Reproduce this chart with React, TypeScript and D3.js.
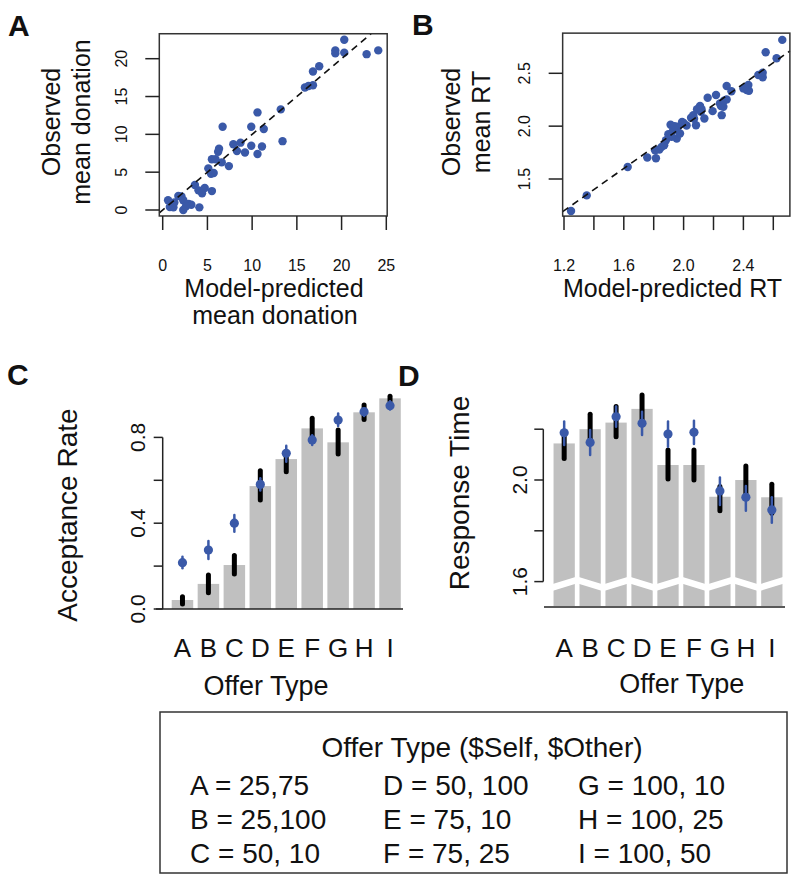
import React from 'react';
import * as d3 from 'd3';

// ---------- DATA ----------
const donationPoints: [number, number][] = [
  [20.3, 22.5], [19.3, 21.1], [19.3, 20.7], [20.3, 20.8], [22.8, 20.6], [24.1, 21.1],
  [17.5, 19.0], [16.8, 18.3], [15.9, 16.2], [16.3, 16.4], [16.8, 16.5], [13.2, 13.3],
  [13.4, 9.1], [10.6, 12.9], [9.9, 11.0], [11.3, 10.7], [6.7, 11.0], [7.9, 8.7],
  [8.7, 8.9], [8.3, 7.8], [9.2, 7.6], [9.9, 8.5], [11.1, 8.4], [10.6, 7.4],
  [6.3, 8.1], [6.2, 7.7], [5.5, 6.7], [5.9, 6.7], [6.6, 6.3], [7.4, 5.8],
  [5.1, 5.5], [5.4, 4.8], [5.7, 4.9], [3.6, 3.3], [4.0, 2.6], [4.7, 2.9],
  [4.4, 2.2], [5.5, 2.5], [1.75, 1.85], [2.1, 1.8], [0.6, 1.3], [0.8, 0.4],
  [1.2, 0.35], [2.3, 1.3], [2.3, 0.0], [2.9, 0.8], [3.2, 0.7], [4.1, 0.35],
  [2.6, 0.5], [1.3, 1.0],
];

const rtPoints: [number, number][] = [
  [1.247, 1.197], [1.352, 1.345], [1.626, 1.614], [1.757, 1.703], [1.815, 1.696],
  [1.809, 1.772], [1.838, 1.779], [1.853, 1.804], [1.882, 1.867], [1.898, 1.924],
  [1.913, 2.013], [1.954, 1.883], [1.962, 1.994], [1.976, 1.93], [1.99, 2.04],
  [2.02, 2.006], [2.065, 2.104], [2.083, 2.009], [2.11, 2.19], [2.116, 2.136],
  [2.139, 2.073], [2.161, 2.269], [2.194, 2.142], [2.217, 2.294], [2.243, 2.215],
  [2.255, 2.104], [2.266, 2.183], [2.288, 2.38], [2.288, 2.253], [2.32, 2.33],
  [2.40, 2.357], [2.422, 2.342], [2.433, 2.389], [2.437, 2.335], [2.50, 2.484],
  [2.529, 2.462], [2.529, 2.506], [2.549, 2.699], [2.622, 2.642], [2.66, 2.816],
  [1.93, 1.96], [1.94, 2.0], [1.87, 1.82], [1.92, 1.9], [2.07, 2.07], [2.09, 2.16],
  [2.12, 2.16], [2.25, 2.19], [2.27, 2.24], [2.41, 2.36], [2.0, 2.03], [2.05, 2.08],
];

const offerTypes = ['A', 'B', 'C', 'D', 'E', 'F', 'G', 'H', 'I'];

const accObs = [0.042, 0.117, 0.205, 0.573, 0.699, 0.842, 0.777, 0.917, 0.982];
const accObsLo = [0.023, 0.076, 0.163, 0.508, 0.64, 0.803, 0.723, 0.884, 0.97];
const accObsHi = [0.057, 0.159, 0.249, 0.645, 0.729, 0.889, 0.834, 0.951, 0.992];
const accPred = [0.216, 0.275, 0.4, 0.581, 0.726, 0.788, 0.881, 0.92, 0.948];
const accPredLo = [0.19, 0.233, 0.36, 0.552, 0.687, 0.765, 0.853, 0.9, 0.93];
const accPredHi = [0.244, 0.317, 0.438, 0.609, 0.761, 0.81, 0.912, 0.936, 0.968];

const rtObs = [2.144, 2.2, 2.226, 2.28, 2.059, 2.059, 1.934, 2.0, 1.932];
const rtObsLo = [2.085, 2.144, 2.17, 2.223, 2.004, 2.0, 1.879, 1.941, 1.869];
const rtObsHi = [2.19, 2.259, 2.289, 2.335, 2.118, 2.118, 1.974, 2.055, 1.983];
const rtPred = [2.186, 2.148, 2.249, 2.223, 2.181, 2.188, 1.957, 1.932, 1.882];
const rtPredLo = [2.138, 2.098, 2.21, 2.177, 2.131, 2.142, 1.902, 1.879, 1.832];
const rtPredHi = [2.23, 2.197, 2.289, 2.269, 2.23, 2.233, 2.01, 1.976, 1.932];

const ticksA = [0, 5, 10, 15, 20, 25];
const ticksAy = [0, 5, 10, 15, 20];
const ticksBx = [1.2, 1.4, 1.6, 1.8, 2.0, 2.2, 2.4, 2.6];
const labelsBx = ['1.2', '', '1.6', '', '2.0', '', '2.4', ''];
const ticksBy = [1.5, 2.0, 2.5];
const labelsBy = ['1.5', '2.0', '2.5'];
const ticksC = [0, 0.2, 0.4, 0.6, 0.8];
const labelsC = ['0.0', '', '0.4', '', '0.8'];
const ticksD = [1.6, 1.8, 2.0, 2.2];
const labelsD = ['1.6', '', '2.0', ''];

const legendTitle = 'Offer Type ($Self, $Other)';
const legendCol1 = ['A = 25,75', 'B = 25,100', 'C = 50, 10'];
const legendCol2 = ['D = 50, 100', 'E = 75, 10', 'F = 75, 25'];
const legendCol3 = ['G = 100, 10', 'H = 100, 25', 'I = 100, 50'];

// ---------- STYLE ----------
const FONT = '"Liberation Sans", Arial, Helvetica, sans-serif';
const BLUE = '#3a59a8';
const GRAY = '#c0c0c0';
const AXIS = '#222';

function VText(props: { x: number; y: number; size: number; children: any }) {
  return (
    <text
      transform={`translate(${props.x},${props.y}) rotate(-90)`}
      textAnchor="middle"
      fontSize={props.size}
      fill="#111"
    >
      {props.children}
    </text>
  );
}

function Scatter(props: {
  points: [number, number][];
  x: d3.ScaleLinear<number, number>;
  y: d3.ScaleLinear<number, number>;
  xDom: [number, number];
  yDom: [number, number];
}) {
  const { points, x, y, xDom, yDom } = props;
  const lo = Math.max(xDom[0], yDom[0]);
  const hi = Math.min(xDom[1], yDom[1]);
  return (
    <g>
      {points.map((p, i) => (
        <circle key={i} cx={x(p[0])} cy={y(p[1])} r={4.2} fill={BLUE} />
      ))}
      <line
        x1={x(lo)} y1={y(lo)} x2={x(hi)} y2={y(hi)}
        stroke="#111" strokeWidth={1.6} strokeDasharray="7,5"
      />
      <rect
        x={x(xDom[0])} y={y(yDom[1])}
        width={x(xDom[1]) - x(xDom[0])} height={y(yDom[0]) - y(yDom[1])}
        fill="none" stroke="#333" strokeWidth={1.5}
      />
    </g>
  );
}

export default function App() {
  // Panel A
  const xA = d3.scaleLinear().domain([0, 25]).range([162.7, 386.3]);
  const yA = d3.scaleLinear().domain([0, 20]).range([210, 58.7]);
  const aXDom: [number, number] = [-0.38, 25.1];
  const aYDom: [number, number] = [-0.79, 23.3];
  // Panel B
  const xB = d3.scaleLinear().domain([1.2, 2.6]).range([564, 773.3]);
  const yB = d3.scaleLinear().domain([1.5, 2.5]).range([179, 73.3]);
  const bXDom: [number, number] = [1.191, 2.711];
  const bYDom: [number, number] = [1.149, 2.88];
  // Panel C
  const xC = d3.scaleBand<string>().domain(offerTypes).range([169.5, 403]).paddingInner(0.171).paddingOuter(0.0855);
  const yC = d3.scaleLinear().domain([0, 0.8]).range([609, 437.4]);
  // Panel D
  const xD = d3.scaleBand<string>().domain(offerTypes).range([551.2, 784.8]).paddingInner(0.18).paddingOuter(0.09);
  const yD = d3.scaleLinear().domain([1.6, 2.2]).range([581.6, 429.2]);

  const aBottom = yA(aYDom[0]);
  const bBottom = yB(bYDom[0]);
  const aLeft = xA(aXDom[0]);
  const bLeft = xB(bXDom[0]);

  // zigzag break for panel D
  const stepD = xD.step();
  const zig: [number, number][] = d3.range(0, 10).map((k) => [
    xD.range()[0] + k * stepD,
    k % 2 === 0 ? yD(1.575) : yD(1.607),
  ]);
  const zigLine = d3.line()(zig) as string;

  return (
    <svg
      width={800}
      height={884}
      style={{ position: 'absolute', left: 0, top: 0, background: '#fff' }}
      fontFamily={FONT}
    >
      <rect x={0} y={0} width={800} height={884} fill="#fff" />

      {/* Panel letters */}
      <text x={8} y={36} fontSize={30} fontWeight="bold" fill="#111">A</text>
      <text x={412} y={35} fontSize={30} fontWeight="bold" fill="#111">B</text>
      <text x={7} y={385} fontSize={30} fontWeight="bold" fill="#111">C</text>
      <text x={398} y={386} fontSize={30} fontWeight="bold" fill="#111">D</text>

      {/* ===== Panel A ===== */}
      <Scatter points={donationPoints} x={xA} y={yA} xDom={aXDom} yDom={aYDom} />
      {ticksAy.map((t) => (
        <g key={'ay' + t}>
          <line x1={aLeft - 14} x2={aLeft} y1={yA(t)} y2={yA(t)} stroke={AXIS} strokeWidth={1.5} />
          <VText x={126.7} y={yA(t)} size={16}>{String(t)}</VText>
        </g>
      ))}
      {ticksA.map((t) => (
        <g key={'ax' + t}>
          <line x1={xA(t)} x2={xA(t)} y1={aBottom} y2={aBottom + 14} stroke={AXIS} strokeWidth={1.5} />
          <text x={xA(t)} y={271} fontSize={16} textAnchor="middle" fill="#111">{t}</text>
        </g>
      ))}
      <VText x={60} y={122} size={25}>Observed</VText>
      <VText x={90} y={122} size={25}>mean donation</VText>
      <text x={274} y={297} fontSize={25} textAnchor="middle" fill="#111">Model-predicted</text>
      <text x={275} y={324} fontSize={25} textAnchor="middle" fill="#111">mean donation</text>

      {/* ===== Panel B ===== */}
      <Scatter points={rtPoints} x={xB} y={yB} xDom={bXDom} yDom={bYDom} />
      {ticksBy.map((t, i) => (
        <g key={'by' + t}>
          <line x1={bLeft - 14} x2={bLeft} y1={yB(t)} y2={yB(t)} stroke={AXIS} strokeWidth={1.5} />
          <VText x={530} y={yB(t)} size={16}>{labelsBy[i]}</VText>
        </g>
      ))}
      {ticksBx.map((t, i) => (
        <g key={'bx' + t}>
          <line x1={xB(t)} x2={xB(t)} y1={bBottom} y2={bBottom + 14} stroke={AXIS} strokeWidth={1.5} />
          {labelsBx[i] && (
            <text x={xB(t)} y={271} fontSize={16} textAnchor="middle" fill="#111">{labelsBx[i]}</text>
          )}
        </g>
      ))}
      <VText x={460} y={122} size={25}>Observed</VText>
      <VText x={489.5} y={122} size={25}>mean RT</VText>
      <text x={672.5} y={297} fontSize={25} textAnchor="middle" fill="#111">Model-predicted RT</text>

      {/* ===== Panel C ===== */}
      {offerTypes.map((o, i) => (
        <rect key={'cb' + o} x={xC(o)} y={yC(accObs[i])} width={xC.bandwidth()} height={yC(0) - yC(accObs[i])} fill={GRAY} />
      ))}
      {offerTypes.map((o, i) => {
        const cx = (xC(o) as number) + xC.bandwidth() / 2;
        return (
          <g key={'ce' + o}>
            <line x1={cx} x2={cx} y1={yC(accObsLo[i])} y2={yC(accObsHi[i])} stroke="#000" strokeWidth={5} strokeLinecap="round" />
            <line x1={cx} x2={cx} y1={yC(accPredLo[i])} y2={yC(accPredHi[i])} stroke={BLUE} strokeWidth={2.5} strokeLinecap="round" />
            <circle cx={cx} cy={yC(accPred[i])} r={4.6} fill={BLUE} />
            <text x={cx} y={656.7} fontSize={26} textAnchor="middle" fill="#111">{o}</text>
          </g>
        );
      })}
      <line x1={156} x2={403} y1={yC(0)} y2={yC(0)} stroke={AXIS} strokeWidth={1.6} />
      <line x1={162.7} x2={162.7} y1={yC(0)} y2={yC(0.8)} stroke={AXIS} strokeWidth={1.5} />
      {ticksC.map((t, i) => (
        <g key={'cy' + t}>
          <line x1={162.7 - 9} x2={162.7} y1={yC(t)} y2={yC(t)} stroke={AXIS} strokeWidth={1.5} />
          {labelsC[i] && <VText x={145} y={yC(t)} size={21}>{labelsC[i]}</VText>}
        </g>
      ))}
      <VText x={77} y={515} size={28}>Acceptance Rate</VText>
      <text x={266} y={695} fontSize={27} textAnchor="middle" fill="#111">Offer Type</text>

      {/* ===== Panel D ===== */}
      {offerTypes.map((o, i) => (
        <rect key={'db' + o} x={xD(o)} y={yD(rtObs[i])} width={xD.bandwidth()} height={yD(1.5) - 1 - yD(rtObs[i])} fill={GRAY} />
      ))}
      <path d={zigLine} fill="none" stroke="#fff" strokeWidth={6.5} />
      {offerTypes.map((o, i) => {
        const cx = (xD(o) as number) + xD.bandwidth() / 2;
        return (
          <g key={'de' + o}>
            <line x1={cx} x2={cx} y1={yD(rtObsLo[i])} y2={yD(rtObsHi[i])} stroke="#000" strokeWidth={5} strokeLinecap="round" />
            <line x1={cx} x2={cx} y1={yD(rtPredLo[i])} y2={yD(rtPredHi[i])} stroke={BLUE} strokeWidth={2.5} strokeLinecap="round" />
            <circle cx={cx} cy={yD(rtPred[i])} r={4.6} fill={BLUE} />
            <text x={cx} y={656.7} fontSize={26} textAnchor="middle" fill="#111">{o}</text>
          </g>
        );
      })}
      <line x1={544} x2={785} y1={yD(1.5)} y2={yD(1.5)} stroke={AXIS} strokeWidth={1.6} />
      <line x1={543.3} x2={543.3} y1={yD(1.6)} y2={yD(2.2)} stroke={AXIS} strokeWidth={1.5} />
      {ticksD.map((t, i) => (
        <g key={'dy' + t}>
          <line x1={543.3 - 9} x2={543.3} y1={yD(t)} y2={yD(t)} stroke={AXIS} strokeWidth={1.5} />
          {labelsD[i] && <VText x={526.7} y={yD(t)} size={21}>{labelsD[i]}</VText>}
        </g>
      ))}
      <VText x={469} y={493} size={28}>Response Time</VText>
      <text x={681.7} y={693} fontSize={27} textAnchor="middle" fill="#111">Offer Type</text>

      {/* ===== Legend ===== */}
      <rect x={160} y={712} width={627} height={161} fill="none" stroke="#333" strokeWidth={1.5} />
      <text x={482} y={757} fontSize={28} textAnchor="middle" fill="#111">{legendTitle}</text>
      {[legendCol1, legendCol2, legendCol3].map((col, ci) =>
        col.map((s, ri) => (
          <text key={'lg' + ci + ri} x={[190, 383, 578][ci]} y={795 + ri * 34} fontSize={28} fill="#111">{s}</text>
        ))
      )}
    </svg>
  );
}
